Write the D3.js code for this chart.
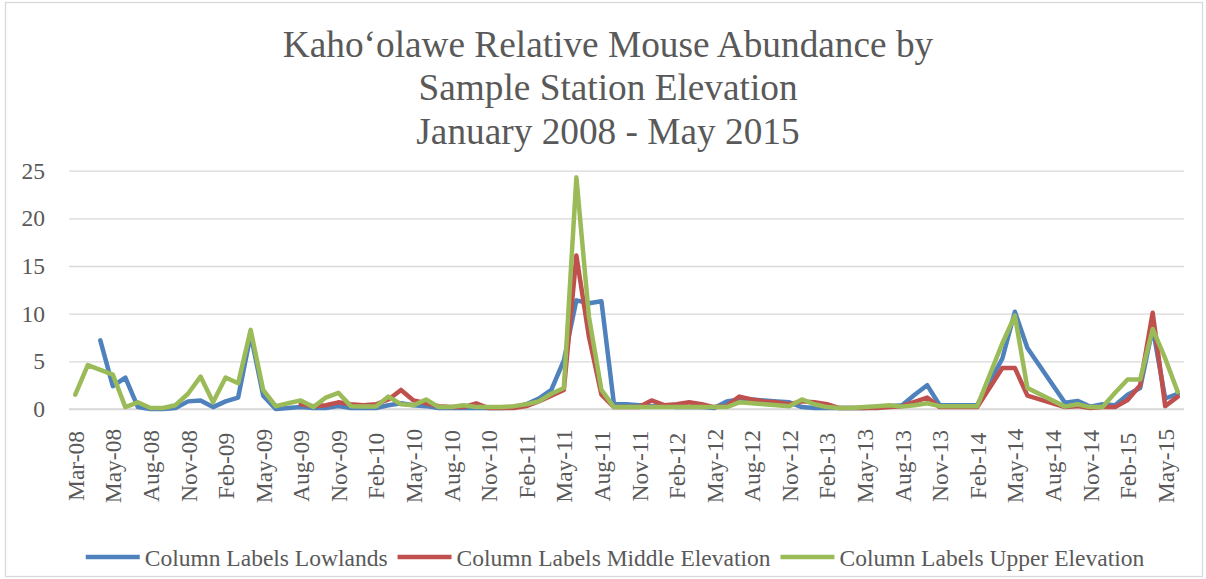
<!DOCTYPE html>
<html>
<head>
<meta charset="utf-8">
<script src="https://cdn.jsdelivr.net/npm/d3@7"></script>
<style>
  html, body { margin: 0; padding: 0; background: #fff; }
  svg { display: block; }
  text { font-family: "Liberation Serif", "Times New Roman", serif; fill: #595959; }
</style>
</head>
<body>
<svg id="chart" width="1206" height="579"></svg>
<script>
// Monthly sampling, January 2008 - May 2015 (null = no survey that month)
const firstMonth = new Date(Date.UTC(2008, 0, 1));
const lastMonth = new Date(Date.UTC(2015, 4, 1));
const months = d3.utcMonths(firstMonth, d3.utcMonth.offset(lastMonth, 1));

const lowlands = [
  null, null, 7.2, 2.4, 3.3, 0.2, 0.0, 0.0, 0.1, 0.8,
  0.9, 0.2, 0.8, 1.2, 7.8, 1.4, 0.0, 0.1, 0.2, 0.1,
  0.1, 0.3, 0.1, 0.1, 0.1, 0.4, 0.6, 0.4, 0.3, 0.1,
  0.1, 0.1, 0.1, 0.1, 0.1, 0.2, 0.5, 1.1, 2.0, 5.1,
  11.4, 11.1, 11.3, 0.5, 0.5, 0.4, 0.3, 0.3, 0.2, 0.2,
  0.2, 0.1, 0.8, 1.0, 1.0, 0.9, 0.8, 0.7, 0.2, 0.1,
  0.1, 0.1, 0.1, 0.1, 0.2, 0.3, 0.4, 1.5, 2.5, 0.4,
  0.4, 0.4, 0.4, null, 5.3, 10.2, 6.4, null, null, 0.65,
  0.85, 0.25, 0.5, 0.4, 1.5, 2.2, 8.5, 1.1, 1.6
];

const middleElevation = [
  null, null, null, null, null, null, null, null, null, null,
  null, null, null, null, null, null, null, null, 0.5, 0.3,
  0.4, 0.7, 0.5, 0.4, 0.5, 1.0, 2.0, 0.9, 0.6, 0.3,
  0.2, 0.2, 0.6, 0.1, 0.1, 0.1, 0.3, 0.8, 1.4, 2.0,
  16.1, 7.6, 1.5, 0.2, 0.2, 0.2, 0.9, 0.4, 0.5, 0.7,
  0.5, 0.2, 0.3, 1.3, 1.0, 0.8, 0.7, 0.5, 0.8, 0.7,
  0.5, 0.1, 0.1, 0.1, 0.1, 0.2, 0.3, 0.75, 1.2, 0.2,
  0.2, 0.2, 0.2, null, 4.3, 4.3, 1.4, null, null, 0.2,
  0.3, 0.1, 0.2, 0.2, 0.95, 2.5, 10.1, 0.3, 1.3
];

const upperElevation = [
  1.5, 4.6, null, 3.6, 0.2, 0.7, 0.1, 0.1, 0.4, 1.6,
  3.4, 0.7, 3.3, 2.7, 8.3, 2.0, 0.3, 0.6, 0.9, 0.2,
  1.2, 1.7, 0.3, 0.25, 0.25, 1.3, 0.5, 0.4, 1.0, 0.2,
  0.2, 0.4, 0.2, 0.2, 0.2, 0.3, 0.5, 0.8, 1.6, 2.2,
  24.3, 9.7, 2.0, 0.2, 0.2, 0.2, 0.2, 0.2, 0.2, 0.2,
  0.2, 0.2, 0.2, 0.7, 0.6, 0.5, 0.4, 0.3, 1.0, 0.5,
  0.2, 0.1, 0.1, 0.2, 0.3, 0.4, 0.25, 0.4, 0.6, 0.3,
  0.3, 0.3, 0.3, null, 6.9, 9.8, 2.2, null, null, 0.25,
  0.5, 0.2, 0.2, 1.7, 3.1, 3.1, 8.4, 5.3, 1.8
];

const seriesNames = [
  "Column Labels Lowlands",
  "Column Labels Middle Elevation",
  "Column Labels Upper Elevation"
];
const seriesColors = ["#4F81BD", "#C0504D", "#9BBB59"];

const tickLabels = [
  "Mar-08", "May-08", "Aug-08", "Nov-08", "Feb-09", "May-09", "Aug-09", "Nov-09",
  "Feb-10", "May-10", "Aug-10", "Nov-10", "Feb-11", "May-11", "Aug-11", "Nov-11",
  "Feb-12", "May-12", "Aug-12", "Nov-12", "Feb-13", "May-13", "Aug-13", "Nov-13",
  "Feb-14", "May-14", "Aug-14", "Nov-14", "Feb-15", "May-15"
];
const yTicks = [0, 5, 10, 15, 20, 25];

const titleLines = [
  "Kaho\u2018olawe Relative Mouse Abundance by",
  "Sample Station Elevation",
  "January 2008 - May 2015"
];

// ---- layout ----
const W = 1206, H = 579;
const plot = { left: 69, right: 1184, top: 170.7, bottom: 409 };
const textColor = "#595959";
const gridColor = "#D9D9D9";
const labelSize = 23.5;
const serif = '"Liberation Serif", "Times New Roman", serif';

const svg = d3.select("#chart");
svg.append("rect").attr("width", W).attr("height", H).attr("fill", "#fff");
svg.append("rect")
  .attr("x", 5.5).attr("y", 2.5).attr("width", 1197).attr("height", 574)
  .attr("fill", "none").attr("stroke", gridColor).attr("stroke-width", 1.3);

const x = d3.scalePoint().domain(months).range([plot.left, plot.right]).padding(0.5);
const y = d3.scaleLinear().domain([0, 25]).range([plot.bottom, plot.top]);

// title
const title = svg.append("text")
  .attr("text-anchor", "middle")
  .attr("font-size", 37.3)
  .attr("fill", textColor);
titleLines.forEach((t, i) => {
  title.append("tspan").attr("x", 608).attr("y", 57 + i * 43.3).text(t);
});

// horizontal gridlines
const yAxis = d3.axisLeft(y).tickValues(yTicks).tickSize(-(plot.right - plot.left)).tickPadding(24);
const gy = svg.append("g").attr("transform", `translate(${plot.left},0)`).call(yAxis);
gy.select(".domain").remove();
gy.selectAll(".tick line").attr("stroke", gridColor).attr("stroke-width", 1.3);
gy.selectAll(".tick text")
  .attr("font-family", serif)
  .attr("font-size", labelSize).attr("fill", textColor);

// x axis with rotated month labels every third month
const tickMonths = months.filter((d, i) => i % 3 === 0).slice(0, tickLabels.length);
const xAxis = d3.axisBottom(x).tickValues(tickMonths).tickFormat((d, i) => tickLabels[i]).tickSize(0);
const gx = svg.append("g").attr("transform", `translate(0,${plot.bottom})`).call(xAxis);
gx.select(".domain").attr("stroke", gridColor).attr("stroke-width", 1.3)
  .attr("d", `M${plot.left},0H${plot.right}`);
gx.selectAll(".tick text")
  .attr("font-family", serif)
  .attr("font-size", labelSize).attr("fill", textColor)
  .attr("text-anchor", "middle")
  .attr("dy", null)
  .attr("y", 0)
  .attr("transform", "translate(0,57) rotate(-90)")
  .attr("dominant-baseline", "central");

// series lines
const allSeries = [lowlands, middleElevation, upperElevation];
const line = d3.line()
  .x(d => x(d.month))
  .y(d => y(d.value));

allSeries.forEach((vals, s) => {
  const pts = months.map((m, i) => ({ month: m, value: vals[i] }))
    .filter(d => d.value !== null);
  svg.append("path")
    .datum(pts)
    .attr("d", line)
    .attr("fill", "none")
    .attr("stroke", seriesColors[s])
    .attr("stroke-width", 4.5)
    .attr("stroke-linejoin", "round")
    .attr("stroke-linecap", "round");
});

// legend
const legend = svg.append("g");
let cursor = 0;
seriesNames.forEach((name, s) => {
  const g = legend.append("g");
  g.append("line")
    .attr("x1", 0).attr("x2", 54).attr("y1", 557).attr("y2", 557)
    .attr("stroke", seriesColors[s]).attr("stroke-width", 4.5);
  const t = g.append("text")
    .attr("x", 59).attr("y", 565.5)
    .attr("font-size", labelSize).attr("fill", textColor)
    .text(name);
  const w = 59 + t.node().getComputedTextLength();
  g.attr("transform", `translate(${cursor},0)`);
  cursor += w + 10;
});
const totalW = cursor - 10;
legend.attr("transform", `translate(${615 - totalW / 2},0)`);
</script>
</body>
</html>
